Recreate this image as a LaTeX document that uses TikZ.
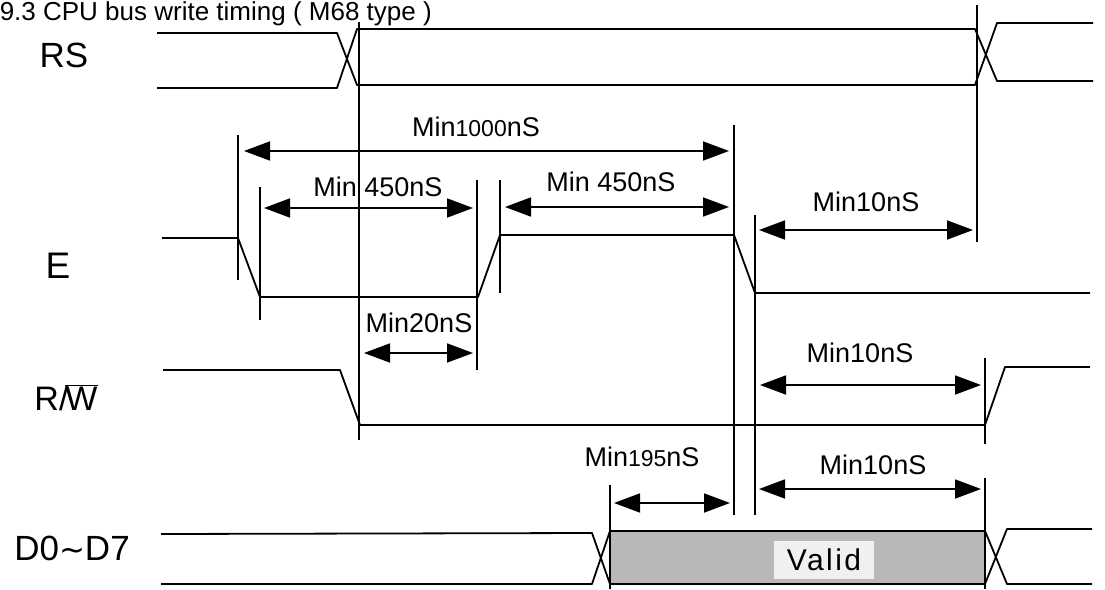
\documentclass[tikz,border=0pt]{standalone}
\usepackage{fontspec}
\setmainfont{Liberation Sans}
\newfontfamily\djv{DejaVu Sans}
\usetikzlibrary{arrows.meta}
\newcommand{\barW}{{\setbox0\hbox{W}\rlap{\raisebox{\dimexpr\ht0+1.5pt\relax}{\rule{\wd0}{1.4pt}}}\box0}}
\begin{document}
\begin{tikzpicture}[x=1pt,y=-1pt,
  sig/.style={line width=1.8pt, line join=round},
  tick/.style={line width=1.8pt},
  dim/.style={line width=1.8pt, {Triangle[length=26pt,width=19pt]}-{Triangle[length=26pt,width=19pt]}},
  lbl/.style={inner sep=0pt, font=\fontsize{27}{30}\selectfont},
  sname/.style={inner sep=0pt, font=\fontsize{35}{38}\selectfont}]
\useasboundingbox (0,0) rectangle (1105,589);

% title (at the top edge)
\node[anchor=base east, inner sep=0pt, font=\fontsize{26}{30}\selectfont] (title) at (432,20) {9.3 CPU bus write timing ( M68 type )};

% signal names
\node[sname] (nRS) at (64,55) {RS};
\node[sname, font=\fontsize{37}{40}\selectfont] (nE) at (58,266) {E};
\node[sname, font=\fontsize{34}{37}\selectfont] (nRW) at (66,398) {R/\kern-3pt\barW};
\node[sname] (nD) at (72,548) {D0{\djv\fontsize{31}{33}\selectfont ∼}D7};

% RS
\draw[sig] (157,33)--(337,33)--(357,85)--(975,85)--(997,23)--(1093,23);
\draw[sig] (157,88)--(337,88)--(357,29)--(975,29)--(997,81)--(1093,81);

% E
\draw[sig] (162,238)--(238,238)--(260,297)--(478,297)--(500,235)--(734,235)--(755,293)--(1090,293);

% R/W
\draw[sig] (163,370)--(340,370)--(360,425)--(985,425)--(1005,367)--(1090,367);

% D0~D7
\fill[black!28] (610,531) rectangle (985,584);
\draw[sig] (161,534)--(592,533)--(610,584)--(985,584)--(1007,529)--(1092,529);
\draw[sig] (161,584)--(592,584)--(610,531)--(985,531)--(1007,584)--(1092,584);
\node[fill=black!6, inner sep=0pt, minimum width=100pt, minimum height=38pt,
      font=\fontsize{30}{32}\selectfont\addfontfeature{LetterSpace=8}] (valid) at (824,560) {Valid};

% reference ticks
\draw[tick] (238,135)--(238,280);
\draw[tick] (260,187)--(260,320);
\draw[tick] (359,22)--(359,440);
\draw[tick] (477,180)--(477,370);
\draw[tick] (500,180)--(500,293);
\draw[tick] (734,125)--(734,515);
\draw[tick] (755,215)--(755,515);
\draw[tick] (977,5)--(977,242);
\draw[tick] (985,358)--(985,444);
\draw[tick] (985,478)--(985,589);
\draw[tick] (610,485)--(610,589);

% dimension arrows
\draw[dim] (244,151)--(729,151);
\draw[dim] (264,208)--(473,208);
\draw[dim] (505,207)--(729,207);
\draw[dim] (759,230)--(973,230);
\draw[dim] (364,353)--(473,353);
\draw[dim] (760,385)--(981,385);
\draw[dim] (614,503)--(730,503);
\draw[dim] (759,489)--(981,489);

% labels
\node[lbl] (l1) at (476,127) {Min{\fontsize{23}{25}\selectfont 1000}nS};
\node[lbl] (l2) at (378,187) {Min 450nS};
\node[lbl] (l3) at (611,182) {Min 450nS};
\node[lbl] (l4) at (866,202) {Min10nS};
\node[lbl] (l5) at (419,323) {Min20nS};
\node[lbl] (l6) at (860,353) {Min10nS};
\node[lbl] (l7) at (642,457) {Min{\fontsize{23}{25}\selectfont 195}nS};
\node[lbl] (l8) at (873,465) {Min10nS};
\end{tikzpicture}
\end{document}
